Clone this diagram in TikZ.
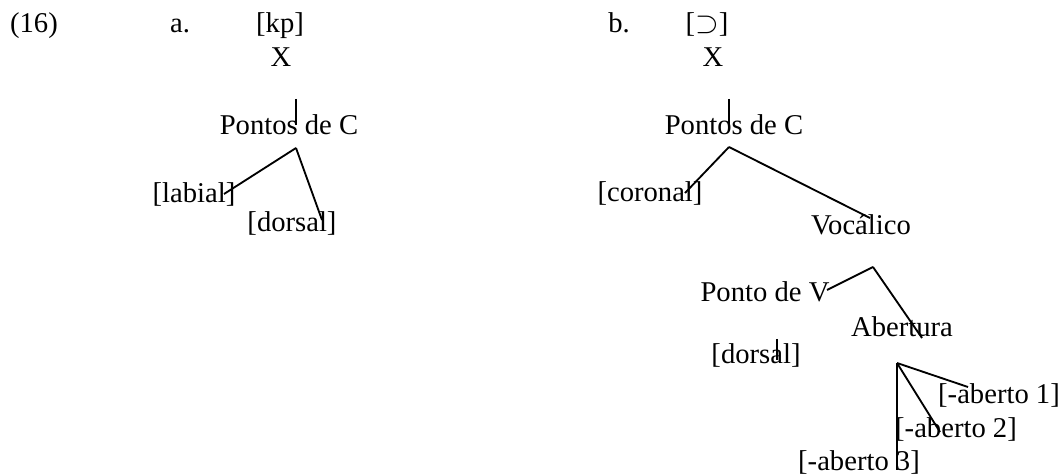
\documentclass[tikz,border=0pt]{standalone}
\usepackage{fontspec}
\setmainfont{Liberation Serif}
\begin{document}
\begin{tikzpicture}[x=0.02cm,y=-0.02cm]%[pixel units, y down]
            \tikzset{lbl/.style={anchor=base,inner sep=0pt,font=\fontsize{16.3}{19}\selectfont},
                     br/.style={line width=1.05pt}}
            \useasboundingbox (0,0) rectangle (1062,476);
            % (a)
            \node[lbl] (num) at (34,33) {(16)};
            \node[lbl] (a) at (180,33) {a.};
            \node[lbl] (kp) at (280,33) {[kp]};
            \node[lbl] (xa) at (281,67) {X};
            \node[lbl] (pca) at (289,135) {Pontos de C};
            \node[lbl] (lab) at (194,203) {[labial]};
            \node[lbl] (dora) at (292,232) {[dorsal]};
            % (b)
            \node[lbl] (b) at (619,33) {b.};
            \node[lbl] (oo) at (707,33) {[$\supset$]};
            \node[lbl] (xb) at (713,67) {X};
            \node[lbl] (pcb) at (734,135) {Pontos de C};
            \node[lbl] (cor) at (650,202) {[coronal]};
            \node[lbl] (voc) at (861,235) {Vocálico};
            \node[lbl] (pv) at (765,302) {Ponto de V};
            \node[lbl] (abe) at (902,337) {Abertura};
            \node[lbl] (dorb) at (756,363) {[dorsal]};
            \node[lbl] (ab1) at (999,403) {[-aberto 1]};
            \node[lbl] (ab2) at (956,437) {[-aberto 2]};
            \node[lbl] (ab3) at (859,470) {[-aberto 3]};
            % branch ends
            \coordinate (xaLo) at (296,99);   \coordinate (pcaUp) at (296,125);
            \coordinate (pcaLo) at (296,148); \coordinate (labEnd) at (224,194);
            \coordinate (doraEnd) at (322,220);
            \coordinate (xbLo) at (729,99);   \coordinate (pcbUp) at (729,125);
            \coordinate (pcbLo) at (729,147); \coordinate (corEnd) at (685,193);
            \coordinate (vocEnd) at (870,218);
            \coordinate (vocLo) at (873,267); \coordinate (pvEnd) at (827,290);
            \coordinate (abeEnd) at (922,338);
            \coordinate (pvLo) at (777,339);  \coordinate (dorbEnd) at (777,360);
            \coordinate (abeLo) at (897,363); \coordinate (abOne) at (968,387);
            \coordinate (abTwo) at (940,432); \coordinate (abThree) at (897,470);
            \foreach \p/\q in {xaLo/pcaUp,pcaLo/labEnd,pcaLo/doraEnd,
                               xbLo/pcbUp,pcbLo/corEnd,pcbLo/vocEnd,
                               vocLo/pvEnd,vocLo/abeEnd,pvLo/dorbEnd,
                               abeLo/abOne,abeLo/abTwo,abeLo/abThree}
                \draw[br] (\p) -- (\q);
\end{tikzpicture}
\end{document}
